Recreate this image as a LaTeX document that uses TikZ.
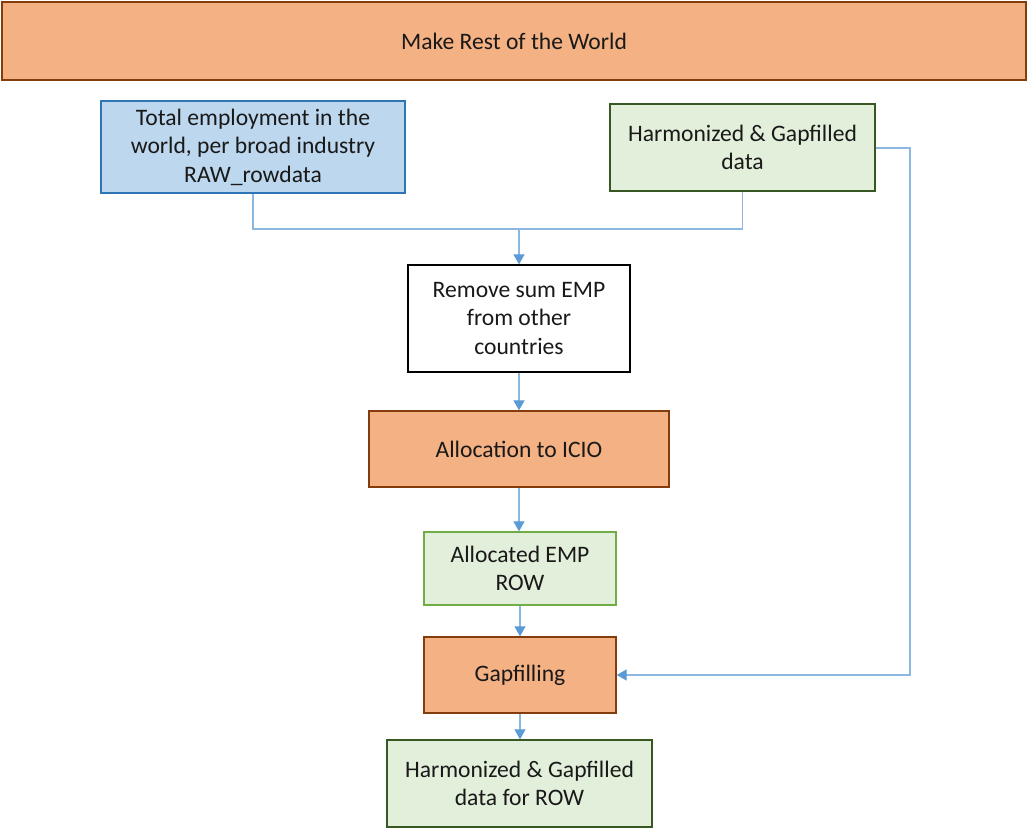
\documentclass[tikz,border=0pt]{standalone}
\usepackage{fontspec}
\setmainfont{Carlito}
\usetikzlibrary{arrows.meta}
\definecolor{orangefill}{HTML}{F4B183}
\definecolor{orangeedge}{HTML}{843C0C}
\definecolor{bluefill}{HTML}{BDD7EE}
\definecolor{blueedge}{HTML}{2E75B6}
\definecolor{greenfill}{HTML}{E2EFDA}
\definecolor{greenedge}{HTML}{385723}
\definecolor{lightgreenedge}{HTML}{70AD47}
\definecolor{linkline}{HTML}{8DB7E3}
\definecolor{linktip}{HTML}{5B9BD5}
\begin{document}
\begin{tikzpicture}[x=1pt,y=-1pt,
  box/.style={draw, line width=1.3pt, align=center, inner sep=0pt,
    text=black!90, font=\fontsize{23.6}{28.5}\selectfont},
  procbox/.style={box, fill=orangefill, draw=orangeedge},
  inbox/.style={box, fill=bluefill, draw=blueedge},
  databox/.style={box, fill=greenfill, draw=greenedge},
  resbox/.style={box, fill=greenfill, draw=lightgreenedge},
  plainbox/.style={box, fill=white, draw=black},
  link/.style={draw=linkline, line width=1.1pt},
  arrowlink/.style={link, -{Triangle[length=10pt,width=11pt,color=linktip,fill=linktip]}}]
\useasboundingbox (0,0) rectangle (1027,828);
\fill[white] (0,0) rectangle (1027,828);

\node[procbox, minimum width=1024pt, minimum height=78pt] (world) at (514,41) {Make Rest of the World};
\node[inbox, minimum width=304pt, minimum height=92pt] (total) at (253,147)
  {Total employment in the\\world, per broad industry\\RAW\_rowdata};
\node[databox, minimum width=265pt, minimum height=87pt] (harm) at (742.5,147.5)
  {Harmonized \& Gapfilled\\data};
\node[plainbox, minimum width=222pt, minimum height=107pt] (remove) at (519,318.5)
  {Remove sum EMP\\from other\\countries};
\node[procbox, minimum width=300pt, minimum height=76pt] (alloc) at (519,449) {Allocation to ICIO};
\node[resbox, minimum width=192pt, minimum height=73pt] (allocemp) at (520,568.5) {Allocated EMP\\ROW};
\node[procbox, minimum width=192pt, minimum height=76pt] (gapfill) at (520,675) {Gapfilling};
\node[databox, minimum width=265pt, minimum height=87pt] (final) at (519.5,783.5)
  {Harmonized \& Gapfilled\\data for ROW};

\coordinate (join) at (519,229);
\coordinate (bend) at (910,148);
\path[link] (total.south) |- (join) -| (harm.south);
\path[arrowlink] (join) -- (remove.north);
\path[arrowlink] (remove.south) -- (alloc.north);
\path[arrowlink] (alloc.south) -- (allocemp.north -| alloc.south);
\path[arrowlink] (allocemp.south) -- (gapfill.north);
\path[arrowlink] (gapfill.south) -- (final.north -| gapfill.south);
\path[arrowlink] (harm.east |- bend) -- (bend) |- (gapfill.east);
\end{tikzpicture}
\end{document}
